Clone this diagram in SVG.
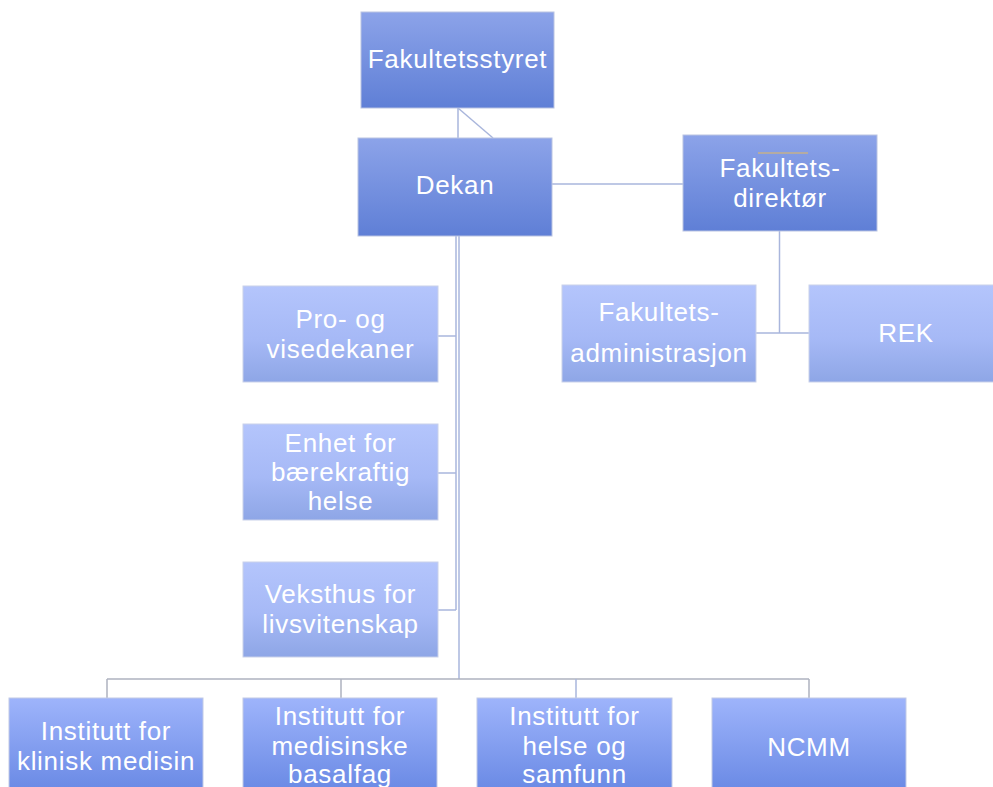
<svg xmlns="http://www.w3.org/2000/svg" width="993" height="787" viewBox="0 0 993 787">
<defs>
<linearGradient id="gDark" x1="0" y1="0" x2="0" y2="1">
<stop offset="0" stop-color="#8ca3e9"/>
<stop offset="1" stop-color="#5f7fd6"/>
</linearGradient>
<linearGradient id="gLight" x1="0" y1="0" x2="0" y2="1">
<stop offset="0" stop-color="#b4c5fc"/>
<stop offset="0.55" stop-color="#a6b9f6"/>
<stop offset="1" stop-color="#8ea6e6"/>
</linearGradient>
<linearGradient id="gBottom" x1="0" y1="0" x2="0" y2="1">
<stop offset="0" stop-color="#9eb4fb"/>
<stop offset="1" stop-color="#6888e4"/>
</linearGradient>
<style>
.dark{fill:url(#gDark);stroke:#b9c3e2;stroke-width:1}
.light{fill:url(#gLight);stroke:#c9d1ea;stroke-width:1}
.bot{fill:url(#gBottom);stroke:#c1cae6;stroke-width:1}
text{font-family:"Liberation Sans",Arial,sans-serif;font-size:26px;fill:#ffffff;text-anchor:middle;letter-spacing:0.7px}
.c{fill:none;stroke:#a9b6dc;stroke-width:1.5}
.cg{fill:none;stroke:#aeb2bf;stroke-width:1.5}
</style>
</defs>
<rect width="993" height="787" fill="#ffffff"/>
<g id="connectors">
<line class="c" x1="458" y1="108" x2="458" y2="138"/>
<line class="c" x1="458" y1="108" x2="493" y2="138"/>
<line class="c" x1="552" y1="184" x2="683" y2="184"/>
<line class="c" x1="779.5" y1="231" x2="779.5" y2="333"/>
<line class="c" x1="756" y1="333" x2="809" y2="333"/>
<line class="c" x1="456" y1="236" x2="456" y2="610"/>
<line class="c" x1="459" y1="236" x2="459" y2="679"/>
<line class="c" x1="438" y1="336" x2="456" y2="336"/>
<line class="c" x1="438" y1="473" x2="456" y2="473"/>
<line class="c" x1="438" y1="610" x2="456" y2="610"/>
<line class="cg" x1="107" y1="679" x2="809" y2="679"/>
<line class="cg" x1="107" y1="679" x2="107" y2="698"/>
<line class="cg" x1="341" y1="679" x2="341" y2="698"/>
<line class="c" x1="576" y1="679" x2="576" y2="698"/>
<line class="cg" x1="809" y1="679" x2="809" y2="698"/>
</g>
<g id="fakultetsstyret">
<rect class="dark" x="361" y="12" width="193" height="96"/>
<text x="457.5" y="68">Fakultetsstyret</text>
</g>
<g id="dekan">
<rect class="dark" x="358" y="138" width="194" height="98"/>
<text x="455" y="194">Dekan</text>
</g>
<g id="fakultetsdirektor">
<rect class="dark" x="683" y="135" width="194" height="96"/>
<line x1="758" y1="153" x2="808" y2="153" stroke="#b4aba2" stroke-width="2"/>
<text x="780" y="177">Fakultets-</text>
<text x="780" y="207">direktør</text>
</g>
<g id="fakultetsadministrasjon">
<rect class="light" x="562" y="285" width="194" height="97"/>
<text x="659" y="321">Fakultets-</text>
<text x="659" y="362">administrasjon</text>
</g>
<g id="rek">
<rect class="light" x="809" y="285" width="194" height="97"/>
<text x="906" y="342">REK</text>
</g>
<g id="prodekaner">
<rect class="light" x="243" y="286" width="195" height="96"/>
<text x="340.5" y="328">Pro- og</text>
<text x="340.5" y="358">visedekaner</text>
</g>
<g id="enhet">
<rect class="light" x="243" y="424" width="195" height="96"/>
<text x="340.5" y="452">Enhet for</text>
<text x="340.5" y="481">bærekraftig</text>
<text x="340.5" y="510">helse</text>
</g>
<g id="veksthus">
<rect class="light" x="243" y="562" width="195" height="95"/>
<text x="340.5" y="603">Veksthus for</text>
<text x="340.5" y="633">livsvitenskap</text>
</g>
<g id="klinisk">
<rect class="bot" x="9" y="698" width="194" height="96"/>
<text x="106" y="740">Institutt for</text>
<text x="106" y="770">klinisk medisin</text>
</g>
<g id="basalfag">
<rect class="bot" x="243" y="698" width="194" height="96"/>
<text x="340" y="725">Institutt for</text>
<text x="340" y="755">medisinske</text>
<text x="340" y="783">basalfag</text>
</g>
<g id="helse">
<rect class="bot" x="477" y="698" width="195" height="96"/>
<text x="574.5" y="725">Institutt for</text>
<text x="574.5" y="755">helse og</text>
<text x="574.5" y="783">samfunn</text>
</g>
<g id="ncmm">
<rect class="bot" x="712" y="698" width="194" height="96"/>
<text x="809" y="756">NCMM</text>
</g>
</svg>
